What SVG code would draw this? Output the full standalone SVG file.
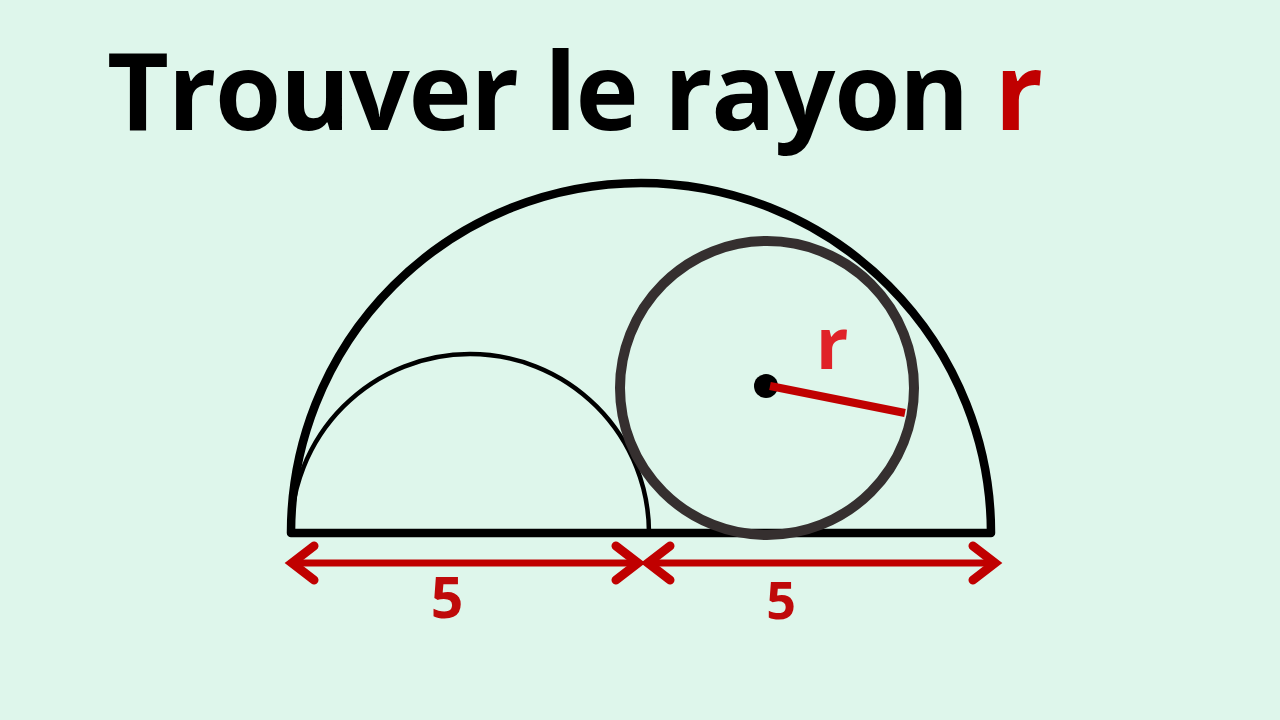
<svg xmlns="http://www.w3.org/2000/svg" width="1280" height="720" viewBox="0 0 1280 720">
<style>
.title{font-family:"Open Sans","Noto Sans",sans-serif;font-weight:700;font-size:107px;fill:#000;letter-spacing:-1.3px}
.lbl{font-family:"Open Sans","Noto Sans",sans-serif;font-weight:700;fill:#bf0a0a;text-anchor:middle}
.blk{fill:none;stroke:#000;stroke-linecap:round;stroke-linejoin:round}
.shaft{fill:none;stroke:#c00000;stroke-width:7;stroke-linecap:round}
.head{fill:none;stroke:#c00000;stroke-width:9;stroke-linecap:round;stroke-linejoin:miter;stroke-miterlimit:10}
</style>
<rect width="1280" height="720" fill="#def6eb"/>
<text class="title" x="107" y="130">Trouver le rayon <tspan fill="#c00000">r</tspan></text>
<g id="big-semicircle">
<path class="blk" stroke-width="8.5" d="M291 533 A350 350 0 0 1 991 533 Z"/>
</g>
<g id="small-semicircle">
<path class="blk" stroke-width="4.5" d="M291 533 A179 179 0 0 1 649 533"/>
</g>
<g id="circle">
<circle cx="767" cy="388" r="147" fill="none" stroke="#352f2f" stroke-width="10"/>
<circle cx="766" cy="386" r="12" fill="#000"/>
<line x1="770" y1="386" x2="905" y2="413" stroke="#c00000" stroke-width="8"/>
<text class="lbl" x="832" y="369" font-size="72" style="fill:#e02228">r</text>
</g>
<g id="connectors">
<path class="shaft" d="M295 563 H636"/>
<path class="head" d="M314 546 L292 563 L314 580 M616 546 L638 563 L616 580"/>
<path class="shaft" d="M651 563 H992"/>
<path class="head" d="M670 546 L648 563 L670 580 M973 546 L995 563 L973 580"/>
</g>
<text class="lbl" x="447" y="618" font-size="57">5</text>
<text class="lbl" x="781" y="619" font-size="52">5</text>
</svg>
